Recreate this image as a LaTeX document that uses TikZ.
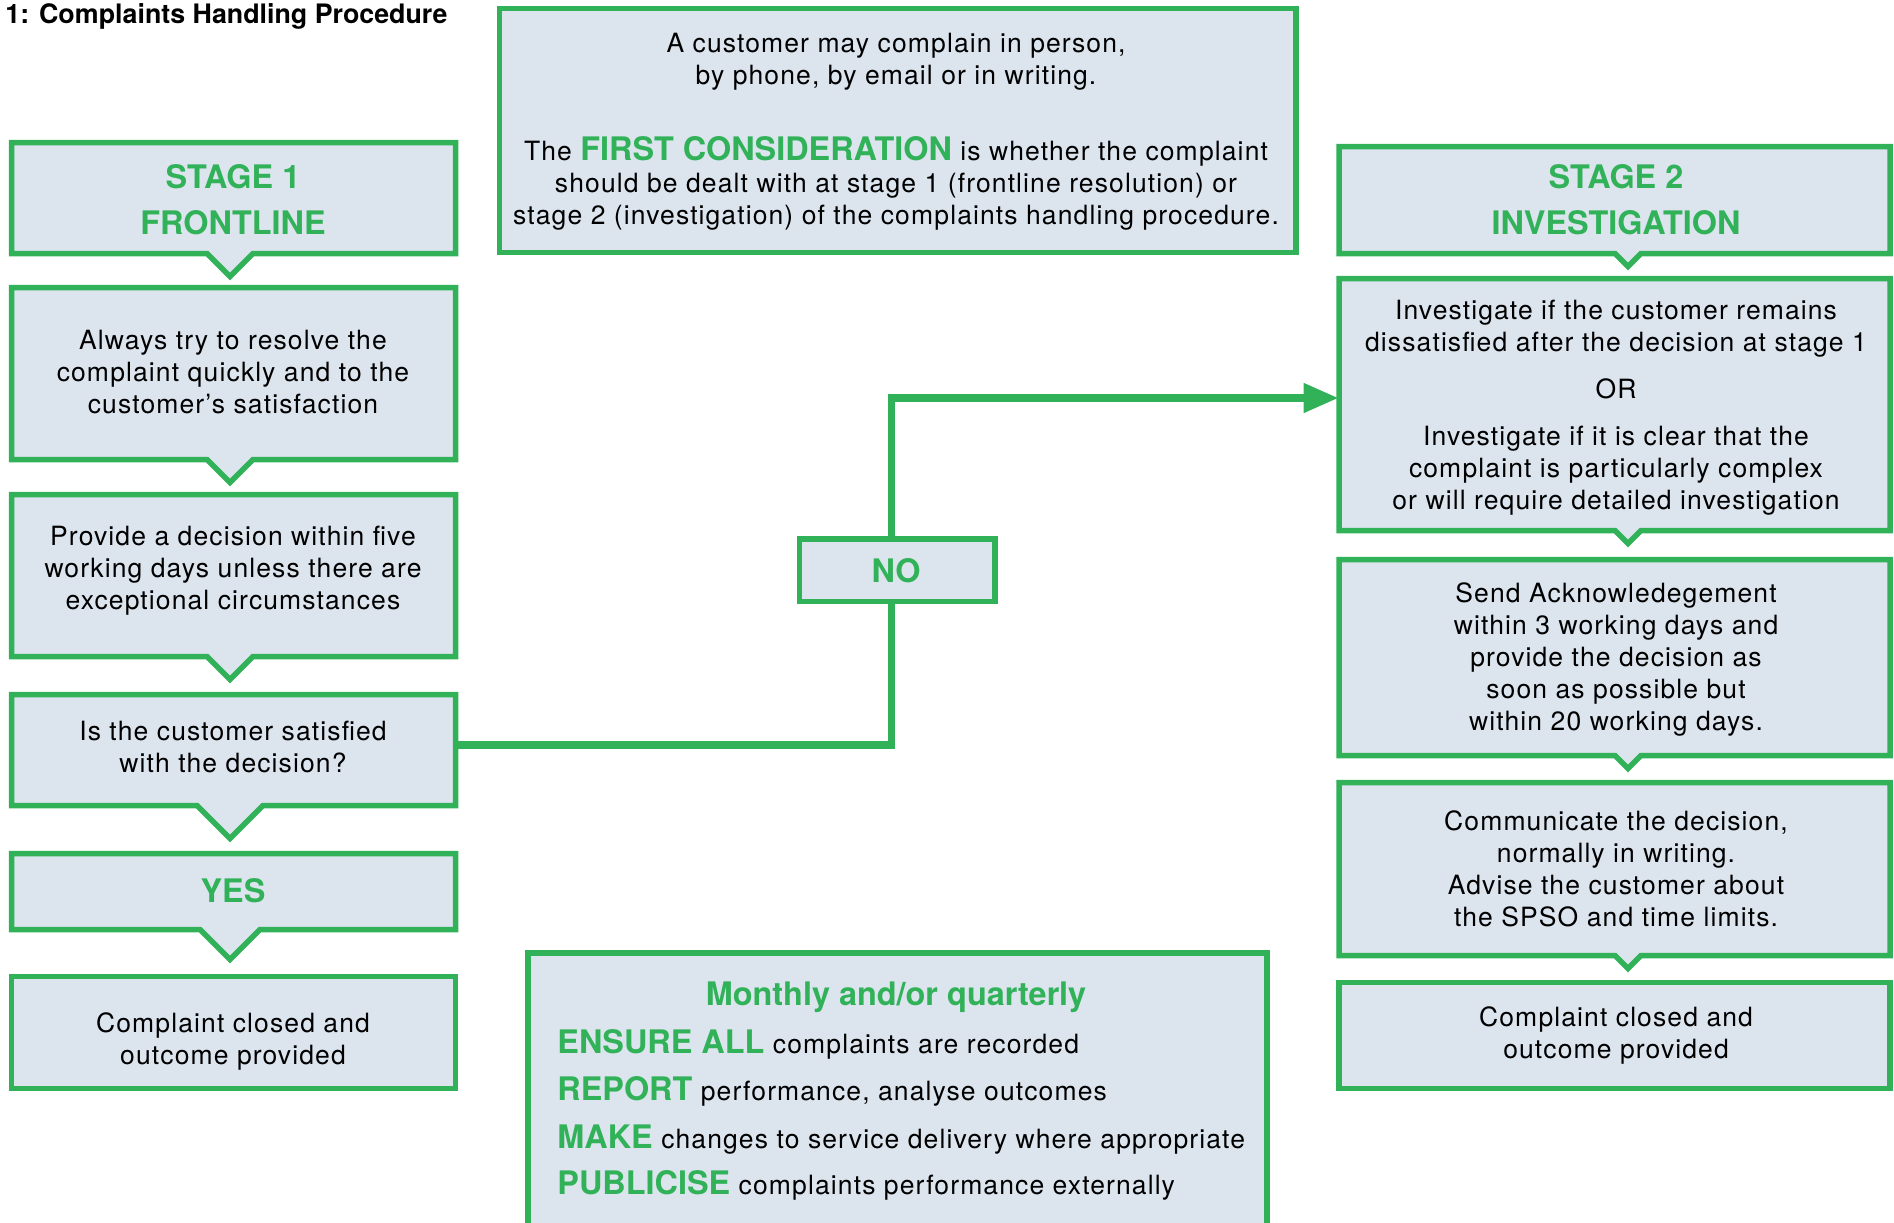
\documentclass[tikz,border=0pt]{standalone}
\usepackage{fontspec}
\setmainfont{TeX Gyre Heros}
\newfontfamily\bodyfont[LetterSpace=4.2]{TeX Gyre Heros}
\usetikzlibrary{arrows.meta}
\definecolor{cgreen}{RGB}{49,178,89}
\definecolor{cfill}{RGB}{220,228,238}
\newcommand\hfnt{\normalfont\fontsize{16.2}{23}\selectfont\bfseries\color{cgreen}}
\tikzset{
  boxline/.style={draw=cgreen, fill=cfill, line width=2.75pt, line join=miter},
  area/.style={inner sep=0pt, draw=none, fill=none},
  body/.style={font=\bodyfont\fontsize{13.25}{16}\selectfont, align=center, text=black, inner sep=0pt},
  head/.style={font=\fontsize{16.2}{23}\selectfont\bfseries, text=cgreen, align=center, inner sep=0pt},
  conn/.style={draw=cgreen, line width=3.75pt, line join=miter},
}
% name, x1, y1, x2, y2, notch depth, notch tip x
\newcommand\notchbox[7]{%
  \path[boxline] (#2,#3) -- (#4,#3) -- (#4,#5) -- ({#7+#6},#5) -- (#7,{#5+#6}) -- ({#7-#6},#5) -- (#2,#5) -- cycle;
  \node[area, minimum width={(#4-#2)*0.5pt}, minimum height={(#5-#3)*0.5pt}] (#1) at ({(#2+#4)/2},{(#3+#5)/2}) {};
}
\newcommand\plainbox[5]{%
  \path[boxline] (#2,#3) rectangle (#4,#5);
  \node[area, minimum width={(#4-#2)*0.5pt}, minimum height={(#5-#3)*0.5pt}] (#1) at ({(#2+#4)/2},{(#3+#5)/2}) {};
}
\begin{document}
\begin{tikzpicture}[x=0.5pt, y=-0.5pt]
\useasboundingbox (0,0) rectangle (1894,1222);
\clip (0,0) rectangle (1894,1222);

\node[anchor=base west, inner sep=0pt, font=\fontsize{13.4}{16}\selectfont\bfseries] (title) at (5,23) {1: Complaints Handling Procedure};

% top box
\plainbox{top}{499.5}{8.5}{1296}{252.5}
\node[body] (top1) at (896,62) {A customer may complain in person,\\by phone, by email or in writing.};
\node[body] (top2) at (896,183.5) {The {\hfnt FIRST CONSIDERATION} is whether the complaint\\should be dealt with at stage 1 (frontline resolution) or\\stage 2 (investigation) of the complaints handling procedure.};

% left column
\notchbox{S1}{11.5}{142.5}{455.5}{253.5}{23}{230}
\node[head] (S1t) at (233,200) {STAGE 1\\FRONTLINE};
\notchbox{B}{11.5}{287.5}{455.5}{459.5}{23}{230}
\node[body] (Bt) at (233,372) {Always try to resolve the\\complaint quickly and to the\\customer’s satisfaction};
\notchbox{C}{11.5}{494.5}{455.5}{656.5}{23}{230}
\node[body] (Ct) at (233,570.5) {Provide a decision within five\\working days unless there are\\exceptional circumstances};
\notchbox{D}{11.5}{694.5}{455.5}{805.5}{33}{230}
\node[body] (Dt) at (233,746.5) {Is the customer satisfied\\with the decision?};
\notchbox{YES}{11.5}{853.5}{455.5}{929.5}{30}{230}
\node[head] (YESt) at (233,890.5) {YES};
\plainbox{F}{11.5}{976.5}{455.5}{1088.5}
\node[body] (Ft) at (233,1041.5) {Complaint closed and\\outcome provided};

% right column
\notchbox{S2}{1339}{146.5}{1890}{253.5}{13}{1628}
\node[head] (S2t) at (1616,199.5) {STAGE 2\\INVESTIGATION};
\notchbox{Inv}{1339}{278.5}{1890}{530.5}{13}{1628}
\node[body] (Invt) at (1616,407.5) {Investigate if the customer remains\\dissatisfied after the decision at stage 1\\[7.5pt]OR\\[7.5pt]Investigate if it is clear that the\\complaint is particularly complex\\or will require detailed investigation};
\notchbox{Ack}{1339}{559.5}{1890}{755.5}{13}{1628}
\node[body] (Ackt) at (1616,659) {Send Acknowledegement\\within 3 working days and\\provide the decision as\\soon as possible but\\within 20 working days.};
\notchbox{Com}{1339}{782.5}{1890}{955.5}{13}{1628}
\node[body] (Comt) at (1616,869) {Communicate the decision,\\normally in writing.\\Advise the customer about\\the SPSO and time limits.};
\plainbox{G}{1339}{982.5}{1890}{1088.5}
\node[body] (Gt) at (1616,1035.5) {Complaint closed and\\outcome provided};

% NO box
\plainbox{NO}{799.5}{539}{995}{601.5}
\node[head] (NOt) at (896,570.5) {NO};

% bottom box
\plainbox{M}{528}{953}{1267}{1240}
\node[head, anchor=base] (Mt) at (896,1005.5) {Monthly and/or quarterly};
\node[body, anchor=base west] (M1) at (557,1053) {{\hfnt ENSURE ALL} complaints are recorded};
\node[body, anchor=base west] (M2) at (557,1100) {{\hfnt REPORT} performance, analyse outcomes};
\node[body, anchor=base west] (M3) at (557,1148) {{\hfnt MAKE} changes to service delivery where appropriate};
\node[body, anchor=base west] (M4) at (557,1194) {{\hfnt PUBLICISE} complaints performance externally};

% connectors
\draw[conn] ([yshift=2.5pt]D.east) -| ([xshift=-3pt]NO.south);
\draw[conn, -{Triangle[length=17.5pt, width=14pt]}] ([xshift=-3pt]NO.north) |- ([yshift=3.25pt]Inv.west);
\end{tikzpicture}
\end{document}
